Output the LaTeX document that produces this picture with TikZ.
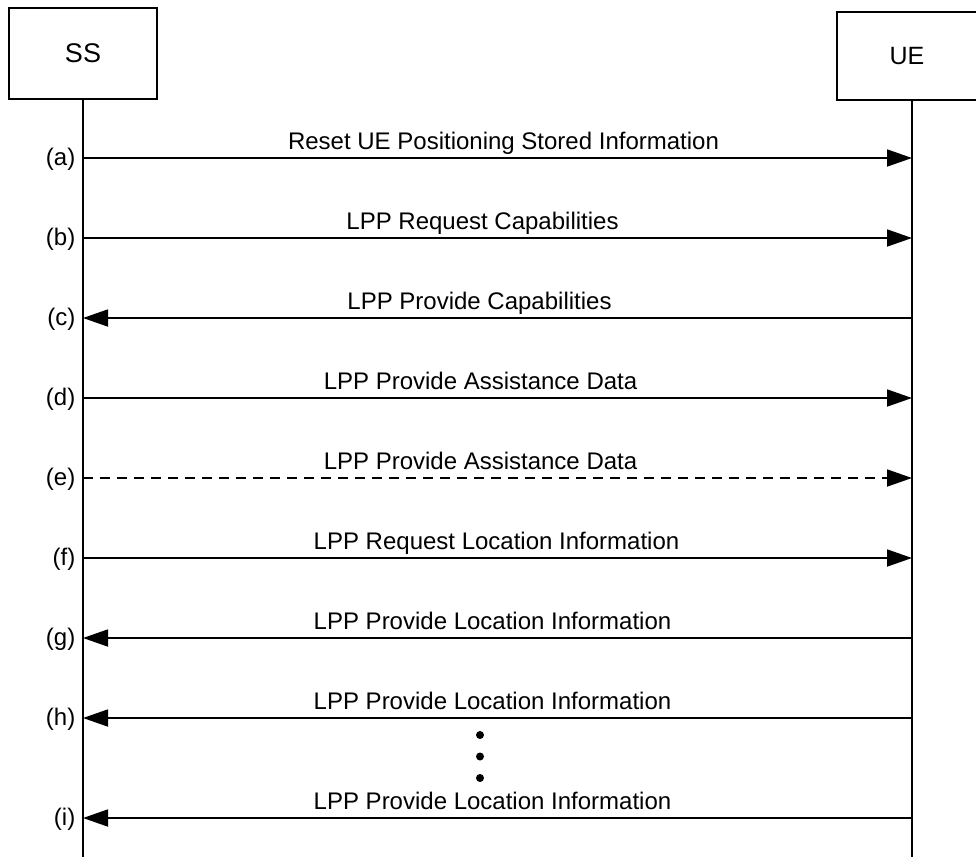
\documentclass[tikz,border=0pt]{standalone}
\usepackage{fontspec}
\setmainfont{Liberation Sans}
\usetikzlibrary{arrows.meta}
\usetikzlibrary{positioning}

\begin{document}
\begin{tikzpicture}[
            x = 1pt, y = -1pt, % one unit is one pixel, y going down
            > = {Triangle[length=25pt, width=17pt]}, % arrow head style
            line width = 1.5pt,
            font = \fontsize{24}{28}\selectfont
        ]

        \tikzstyle{entity}=[
            draw,
            line width = 1.5pt,
            inner sep = 0pt
        ]
        \tikzstyle{msg}=[->, line width = 1.8pt]
        \tikzstyle{step label}=[anchor = east, inner sep = 2pt, xshift = -5pt, yshift = -1pt]
        \tikzstyle{msg text}=[anchor = base, yshift = 8.5pt, inner sep = 0pt]
        \tikzstyle{more}=[circle, fill, inner sep = 0pt, minimum size = 8pt]

        \useasboundingbox (0,0) rectangle (976,857);

% entities
        \node[entity, minimum width = 148pt, minimum height = 91pt, font = \fontsize{27}{30}\selectfont] (SS) at (83,53.5) {SS};
        \node[entity, minimum width = 140pt, minimum height = 88pt, font = \fontsize{25}{28}\selectfont] (UE) at (907,56) {UE};

        % lifelines
        \coordinate (SS end) at (83,857);
        \coordinate (UE top) at (912,100);
        \coordinate (UE end) at (912,857);
        \draw (SS.south) -- (SS end);
        \draw (UE top) -- (UE end);

        % steps
        \foreach \n/\y in {a/158, b/238, c/318, d/398, e/478, f/558, g/638, h/718, i/818} {
            \coordinate (SS-\n) at (83,\y);
            \coordinate (UE-\n) at (912,\y);
            \node[step label] (L-\n) at (SS-\n) {(\n)};
        }

        \draw[msg] (SS-a) -- node[msg text, xshift = 6pt] {Reset UE Positioning Stored Information} (UE-a);
        \draw[msg] (SS-b) -- node[msg text, xshift = -15pt] {LPP Request Capabilities} (UE-b);
        \draw[msg] (UE-c) -- node[msg text, xshift = -18pt] {LPP Provide Capabilities} (SS-c);
        \draw[msg] (SS-d) -- node[msg text, xshift = -17pt] {LPP Provide Assistance Data} (UE-d);
        \draw[msg, dash pattern = on 10pt off 7pt] (SS-e) -- node[msg text, xshift = -17pt] {LPP Provide Assistance Data} (UE-e);
        \draw[msg] (SS-f) -- node[msg text, xshift = -1pt] {LPP Request Location Information} (UE-f);
        \draw[msg] (UE-g) -- node[msg text, xshift = -5pt] {LPP Provide Location Information} (SS-g);
        \draw[msg] (UE-h) -- node[msg text, xshift = -5pt] {LPP Provide Location Information} (SS-h);
        \draw[msg] (UE-i) -- node[msg text, xshift = -5pt] {LPP Provide Location Information} (SS-i);

        % repeated steps
        \node[more] (M1) at (480,735) {};
        \node[more] (M2) [below = 12pt of M1] {};
        \node[more] (M3) [below = 12pt of M2] {};

\end{tikzpicture}
\end{document}
